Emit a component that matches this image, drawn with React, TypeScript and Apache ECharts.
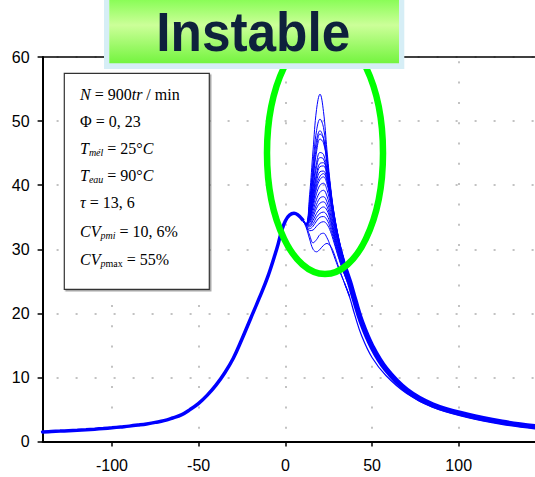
import React, { useEffect, useRef } from "react";
import * as echarts from "echarts";

// ---- Data (crank angle in degrees, pressure in bar) ----
const compressionAngles = [
  -140, -135, -130, -125, -120, -115, -110, -105, -100, -95, -90, -85, -80, -75, -70, -65,
  -60, -55, -50, -45, -40, -35, -30, -25, -20, -15, -10, -5, 0, 5, 10,
];
const compressionPressure = [
  1.5, 1.56, 1.62, 1.69, 1.76, 1.84, 1.93, 2.03, 2.14, 2.27, 2.4, 2.56, 2.74, 2.98, 3.25, 3.67,
  4.15, 4.97, 5.95, 7.24, 8.8, 10.7, 13.0, 16.0, 19.2, 22.4, 25.8, 30.0, 34.4, 35.6, 34.6,
];

const peakAngles = [10, 12, 14, 16, 18, 20, 22, 24, 26, 28, 31, 34, 37];
const cyclePressures: number[][] = [
  [34.6, 34.0, 38.5, 45.5, 51.8, 54.2, 51.5, 45.5, 40.0, 35.8, 31.5, 28.4, 25.6],
  [34.6, 33.9, 37.5, 43.5, 48.5, 50.3, 49.0, 44.5, 39.5, 35.5, 31.3, 28.2, 25.5],
  [34.6, 33.9, 37.0, 42.5, 47.0, 48.5, 47.3, 43.5, 39.0, 35.2, 31.1, 28.1, 25.4],
  [34.6, 33.9, 36.5, 41.5, 46.0, 48.0, 47.3, 44.0, 39.6, 35.7, 31.4, 28.2, 25.5],
  [34.6, 33.9, 36.3, 41.0, 45.2, 47.2, 46.6, 43.6, 39.4, 35.6, 31.3, 28.1, 25.4],
  [34.6, 33.9, 35.8, 40.0, 43.5, 45.1, 44.8, 42.5, 38.9, 35.3, 31.1, 27.9, 25.3],
  [34.6, 33.9, 35.6, 39.5, 42.8, 44.3, 44.1, 42.0, 38.6, 35.1, 31.0, 27.8, 25.2],
  [34.6, 33.9, 35.4, 38.8, 41.8, 43.4, 43.5, 41.8, 38.6, 35.1, 30.9, 27.7, 25.1],
  [34.6, 33.9, 35.2, 38.4, 41.3, 42.9, 43.0, 41.4, 38.3, 34.9, 30.8, 27.6, 25.0],
  [34.6, 33.9, 35.0, 37.9, 40.6, 42.1, 42.2, 40.8, 37.9, 34.6, 30.6, 27.5, 25.0],
  [34.6, 33.9, 34.8, 37.4, 40.0, 41.4, 41.8, 40.7, 38.1, 34.8, 30.7, 27.5, 24.9],
  [34.6, 33.9, 34.7, 37.1, 39.5, 40.9, 41.3, 40.2, 37.7, 34.5, 30.5, 27.4, 24.9],
  [34.6, 33.9, 34.5, 36.6, 38.7, 40.0, 40.3, 39.3, 37.0, 34.0, 30.2, 27.2, 24.8],
  [34.6, 33.9, 34.3, 36.0, 37.8, 38.9, 39.2, 38.3, 36.2, 33.5, 29.9, 27.0, 24.7],
  [34.6, 33.9, 34.1, 35.5, 37.0, 38.0, 38.2, 37.4, 35.5, 33.0, 29.6, 26.8, 24.6],
  [34.6, 33.9, 33.9, 35.0, 36.4, 37.2, 37.4, 36.7, 34.9, 32.6, 29.3, 26.7, 24.5],
  [34.6, 33.9, 33.7, 34.5, 35.6, 36.3, 36.6, 36.1, 34.5, 32.3, 29.1, 26.5, 24.4],
  [34.6, 33.9, 33.5, 34.0, 35.0, 35.6, 35.8, 35.3, 33.9, 31.9, 28.9, 26.4, 24.3],
  [34.6, 33.8, 33.2, 33.6, 34.4, 35.0, 35.1, 34.6, 33.3, 31.5, 28.6, 26.2, 24.2],
  [34.6, 33.8, 32.9, 33.0, 33.6, 34.1, 34.3, 33.9, 32.8, 31.1, 28.4, 26.1, 24.1],
  [34.6, 33.6, 32.2, 31.0, 31.5, 32.3, 32.5, 31.8, 30.5, 29.0, 26.8, 24.8, 22.8],
  [34.6, 33.4, 31.6, 30.0, 29.6, 30.0, 30.6, 30.9, 30.5, 29.4, 27.0, 24.8, 22.6],
];

const tailAngles = [34, 37, 40, 44, 50, 58, 70, 85, 105, 125, 144];
const tailBandPressure = [27.3, 24.9, 22.1, 18.6, 14.8, 11.3, 8.0, 5.7, 4.1, 3.0, 2.3];
const tailLowPressure = [24.8, 22.6, 19.8, 16.5, 13.1, 10.3, 7.5, 5.35, 3.8, 2.75, 2.1];

const xTickValues = [-100, -50, 0, 50, 100];
const yTicks = [0, 10, 20, 30, 40, 50, 60];

const titleText = "Instable";
const paramLines = [
  "{i|N} = 900{i|tr} / min",
  "Φ = 0, 23",
  "{i|T}{s|mél} = 25°{i|C}",
  "{i|T}{s|eau} = 90°{i|C}",
  "{i|τ} = 13, 6",
  "{i|CV}{s|pmi} = 10, 6%",
  "{i|CV}{s|p}{su|max} = 55%",
];

const zip = (xs: number[], ys: number[]) => xs.map((x, i) => [x, ys[i]]);

const SANS = "'Liberation Sans', Arial, sans-serif";
const SERIF = "'Liberation Serif', 'Times New Roman', serif";
const BLUE = "#0000ff";

export default function App() {
  const ref = useRef<HTMLDivElement>(null);

  useEffect(() => {
    if (!ref.current) return;
    const chart = echarts.init(ref.current, undefined, { renderer: "svg" });

    const lineBase = {
      type: "line" as const,
      showSymbol: false,
      symbol: "none",
      smooth: 0.4,
      silent: true,
      z: 3,
    };

    const series: any[] = [
      {
        ...lineBase,
        name: "compression",
        data: zip(compressionAngles, compressionPressure),
        lineStyle: { color: BLUE, width: 3.5, cap: "round" },
      },
      ...cyclePressures.map((row, k) => ({
        ...lineBase,
        name: "cycle" + (k + 1),
        data: zip(peakAngles, row),
        lineStyle: { color: BLUE, width: 1 },
      })),
      {
        ...lineBase,
        name: "tailBand",
        data: zip(tailAngles, tailBandPressure),
        lineStyle: { color: BLUE, width: 5.5, cap: "round" },
      },
      {
        ...lineBase,
        name: "tailLow",
        data: zip(tailAngles, tailLowPressure),
        lineStyle: { color: BLUE, width: 1.2 },
      },
    ];

    const paramYs = [94.6, 121.3, 148.9, 175.6, 202.9, 231.3, 259.6];
    const rich = {
      i: { fontStyle: "italic", fontFamily: SERIF, fontSize: 16, lineHeight: 18, fill: "#000" },
      s: { fontStyle: "italic", fontFamily: SERIF, fontSize: 10, lineHeight: 8, verticalAlign: "bottom", fill: "#000" },
      su: { fontStyle: "normal", fontFamily: SERIF, fontSize: 10, lineHeight: 8, verticalAlign: "bottom", fill: "#000" },
    };

    const graphic: any[] = [
      {
        type: "ellipse",
        shape: { cx: 325, cy: 153, rx: 58, ry: 121 },
        style: { fill: "none", stroke: "#00ff00", lineWidth: 6.5 },
        z: 100,
        silent: true,
      },
      {
        type: "rect",
        shape: { x: 64.3, y: 73.3, width: 145, height: 216 },
        style: {
          fill: "#ffffff",
          stroke: "#333333",
          lineWidth: 1.2,
          shadowColor: "rgba(0,0,0,0.35)",
          shadowOffsetX: 1.5,
          shadowOffsetY: 1.5,
          shadowBlur: 1,
        },
        z: 110,
        silent: true,
      },
      ...paramLines.map((t, i) => ({
        type: "text",
        x: 80,
        y: paramYs[i],
        z: 120,
        silent: true,
        style: {
          text: t,
          rich,
          fontFamily: SERIF,
          fontSize: 16,
          lineHeight: 18,
          fill: "#000",
          align: "left",
          verticalAlign: "middle",
        },
      })),
      {
        type: "rect",
        shape: { x: 104, y: -6, width: 300.3, height: 75 },
        style: { fill: "#d6eef6" },
        z: 130,
        silent: true,
      },
      {
        type: "rect",
        shape: { x: 109.3, y: -6, width: 289.7, height: 69.3 },
        style: {
          fill: {
            type: "linear",
            x: 0,
            y: 0,
            x2: 0,
            y2: 1,
            colorStops: [
              { offset: 0, color: "#7afc48" },
              { offset: 0.45, color: "#ccff99" },
              { offset: 1, color: "#74f43f" },
            ],
          },
        },
        z: 131,
        silent: true,
      },
      {
        type: "text",
        x: 253.3,
        y: 31.6,
        scaleX: 0.917,
        z: 140,
        silent: true,
        style: {
          text: titleText,
          x: 0,
          y: 0,
          fontFamily: SANS,
          fontWeight: "bold",
          fontSize: 56,
          lineHeight: 56,
          fill: "#0e213c",
          align: "center",
          verticalAlign: "middle",
        },
      },
    ];

    const gridDot = (dash: number[], offset: number) => ({
      show: true,
      lineStyle: { color: "#c2c2c2", width: 2, type: dash, dashOffset: offset },
    });

    const option: any = {
      animation: false,
      grid: { left: 42.6, right: 0, top: 57, bottom: 35.5, containLabel: false, outerBoundsMode: "none" },
      xAxis: [
        {
          type: "value",
          min: -140,
          max: 144,
          axisLine: { show: true, onZero: false, lineStyle: { color: "#000", width: 2 } },
          axisTick: { show: true, length: 5, customValues: xTickValues, lineStyle: { color: "#000", width: 1.5 } },
          axisLabel: { customValues: xTickValues, margin: 16, fontSize: 16, color: "#000", fontFamily: SANS },
          splitLine: gridDot([2, 18.3], 16.3),
        },
        {
          type: "value",
          position: "top",
          min: -140,
          max: 144,
          axisLine: { show: true, onZero: false, lineStyle: { color: "#000", width: 1.5 } },
          axisTick: { show: false },
          axisLabel: { show: false },
          splitLine: { show: false },
        },
      ],
      yAxis: {
        type: "value",
        min: yTicks[0],
        max: yTicks[yTicks.length - 1],
        interval: 10,
        axisLine: { show: true, onZero: false, lineStyle: { color: "#000", width: 2 } },
        axisTick: { show: true, length: 5, lineStyle: { color: "#000", width: 1.5 } },
        axisLabel: { margin: 13, fontSize: 16, color: "#000", fontFamily: SANS },
        splitLine: gridDot([2, 17], 4.9),
      },
      series,
      graphic,
    };

    chart.setOption(option);
    return () => chart.dispose();
  }, []);

  return (
    <div
      ref={ref}
      style={{ position: "absolute", left: 0, top: 0, width: 535, height: 477, background: "#fff" }}
    />
  );
}
